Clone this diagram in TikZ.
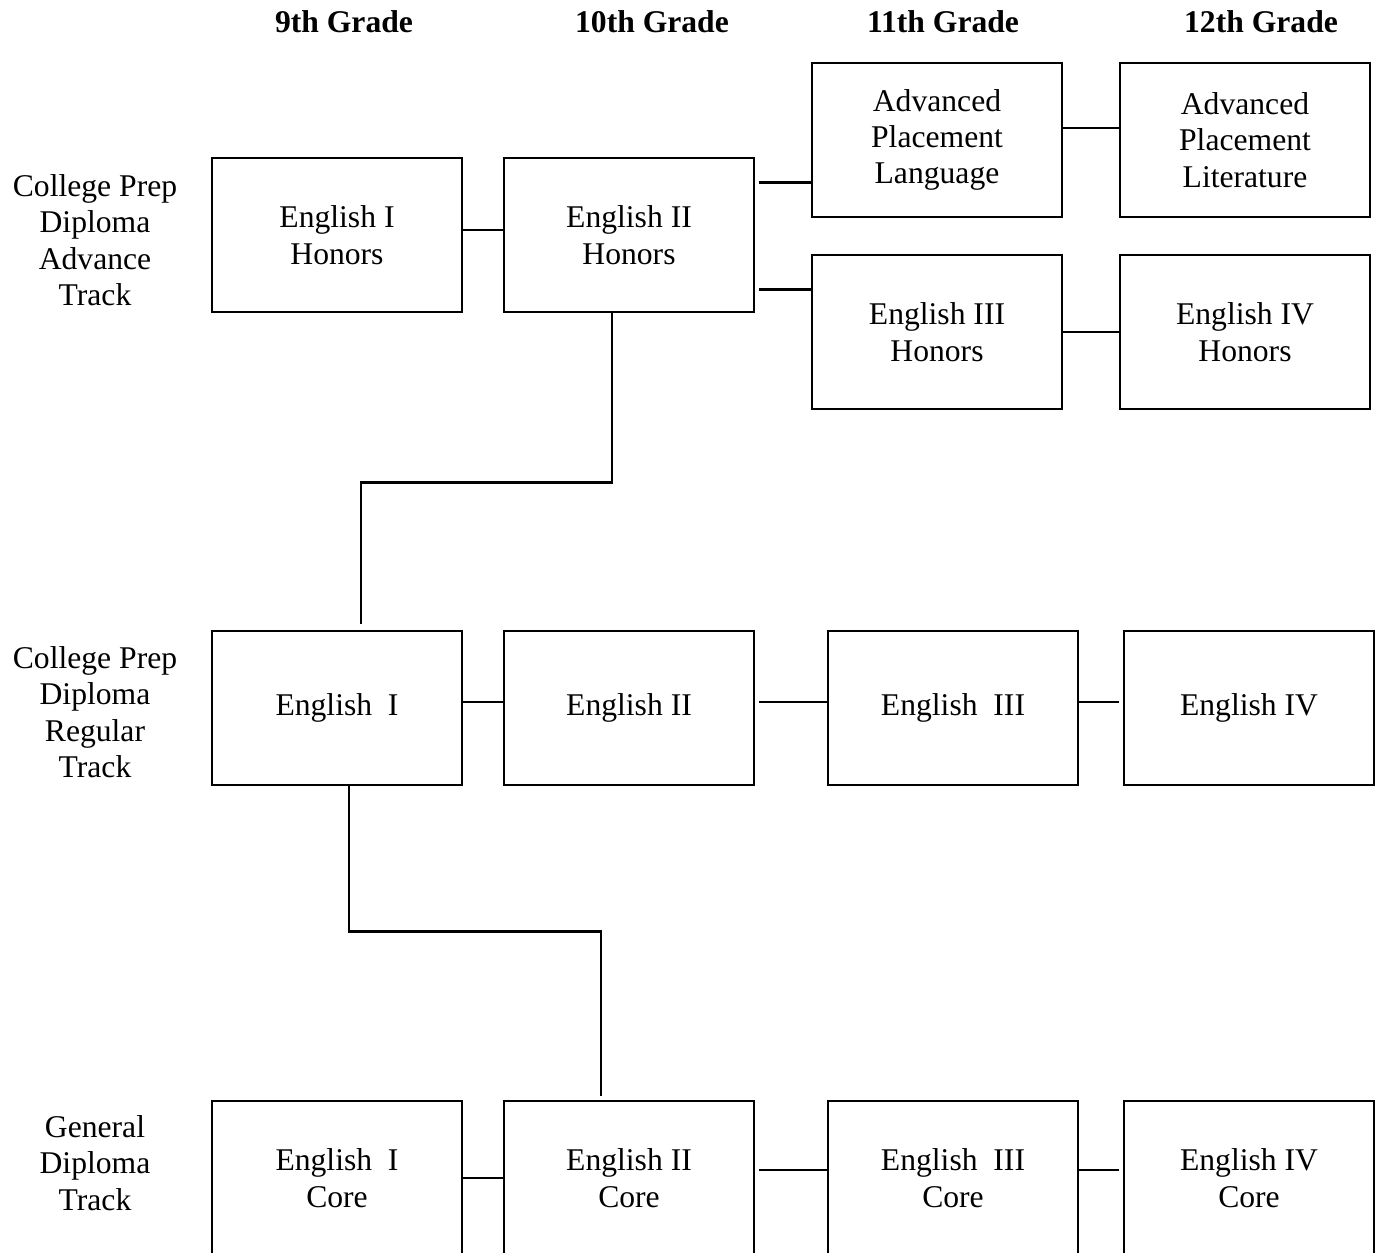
\documentclass[tikz,border=0pt]{standalone}
\usepackage{fontspec}
\setmainfont{Liberation Serif}
\usepackage{tikz}
\usetikzlibrary{arrows}
\newcommand{\coursefont}{\fontsize{18}{20.7}\selectfont}

\begin{document}
\begin{tikzpicture}[-,x=0.02cm,y=-0.02cm,line width=1.6pt,
  course node/.style={rectangle,draw,minimum width=5cm,minimum height=3.08cm,align=center,font=\coursefont},
        track node/.style={align=center,font=\coursefont},
        grade node/.style={font=\coursefont\bfseries}]
  \useasboundingbox (0,0) rectangle (1379,1254);
  \clip (0,0) rectangle (1379,1252);

  % grade headings
  \node[grade node] (g9) at (344,22) {9th Grade};
  \node[grade node] (g10) at (652,22) {10th Grade};
  \node[grade node] (g11) at (943,22) {11th Grade};
  \node[grade node] (g12) at (1261,22) {12th Grade};

  % tracks
  \node[track node] (adv) at (95,240) {College Prep\\Diploma\\Advance\\Track};
  \node[track node] (reg) at (95,712) {College Prep\\Diploma\\Regular\\Track};
  \node[track node] (gen) at (95,1163) {General\\Diploma\\Track};

  % advance track
  \node[course node] (e1h) at (337,235) {English I\\Honors};
  \node[course node] (e2h) at (629,235) {English II\\Honors};
  \node[course node] (apl) at (937,140) {Advanced\\Placement\\Language};
  \node[course node] (aplit) at (1245,140) {Advanced\\Placement\\Literature};
  \node[course node] (e3h) at (937,332) {English III\\Honors};
  \node[course node] (e4h) at (1245,332) {English IV\\Honors};

  % regular track
  \node[course node] (e1) at (337,708) {English~~I};
  \node[course node] (e2) at (629,708) {English II};
  \node[course node] (e3) at (953,708) {English~~III};
  \node[course node] (e4) at (1249,708) {English IV};

  % general track
  \node[course node] (ec1) at (337,1178) {English~~I\\Core};
  \node[course node] (ec2) at (629,1178) {English II\\Core};
  \node[course node] (ec3) at (953,1178) {English~~III\\Core};
  \node[course node] (ec4) at (1249,1178) {English IV\\Core};

  \path
    ([yshift=0.1cm]e1h.east) edge ([yshift=0.1cm]e1h.east -| e2h.west)
    ([xshift=0.08cm,yshift=1.05cm]e2h.east) edge ([yshift=1.05cm]e2h.east -| apl.west)
    ([xshift=0.08cm,yshift=-1.09cm]e2h.east) edge ([yshift=-1.09cm]e2h.east -| e3h.west)
    ([yshift=0.24cm]apl.east) edge ([yshift=0.24cm]apl.east -| aplit.west)
    (e3h.east) edge (e4h.west)
    ([yshift=0.12cm]e1.east) edge ([yshift=0.12cm]e1.east -| e2.west)
    ([xshift=0.08cm,yshift=0.12cm]e2.east) edge ([yshift=0.12cm]e2.east -| e3.west)
    ([yshift=0.12cm]e3.east) edge ([xshift=-0.08cm,yshift=0.12cm]e3.east -| e4.west)
    (ec1.east) edge (ec2.west)
    ([xshift=0.08cm,yshift=0.16cm]ec2.east) edge ([yshift=0.16cm]ec2.east -| ec3.west)
    ([yshift=0.16cm]ec3.east) edge ([xshift=-0.08cm,yshift=0.16cm]ec3.east -| ec4.west);

  \draw ([xshift=-0.34cm]e2h.south) -- ++(0,169) -| ([xshift=0.48cm,yshift=0.12cm]e1.north);
  \draw ([xshift=0.24cm]e1.south) -- ++(0,145) -| ([xshift=-0.56cm,yshift=0.08cm]ec2.north);

\end{tikzpicture}
\end{document}
